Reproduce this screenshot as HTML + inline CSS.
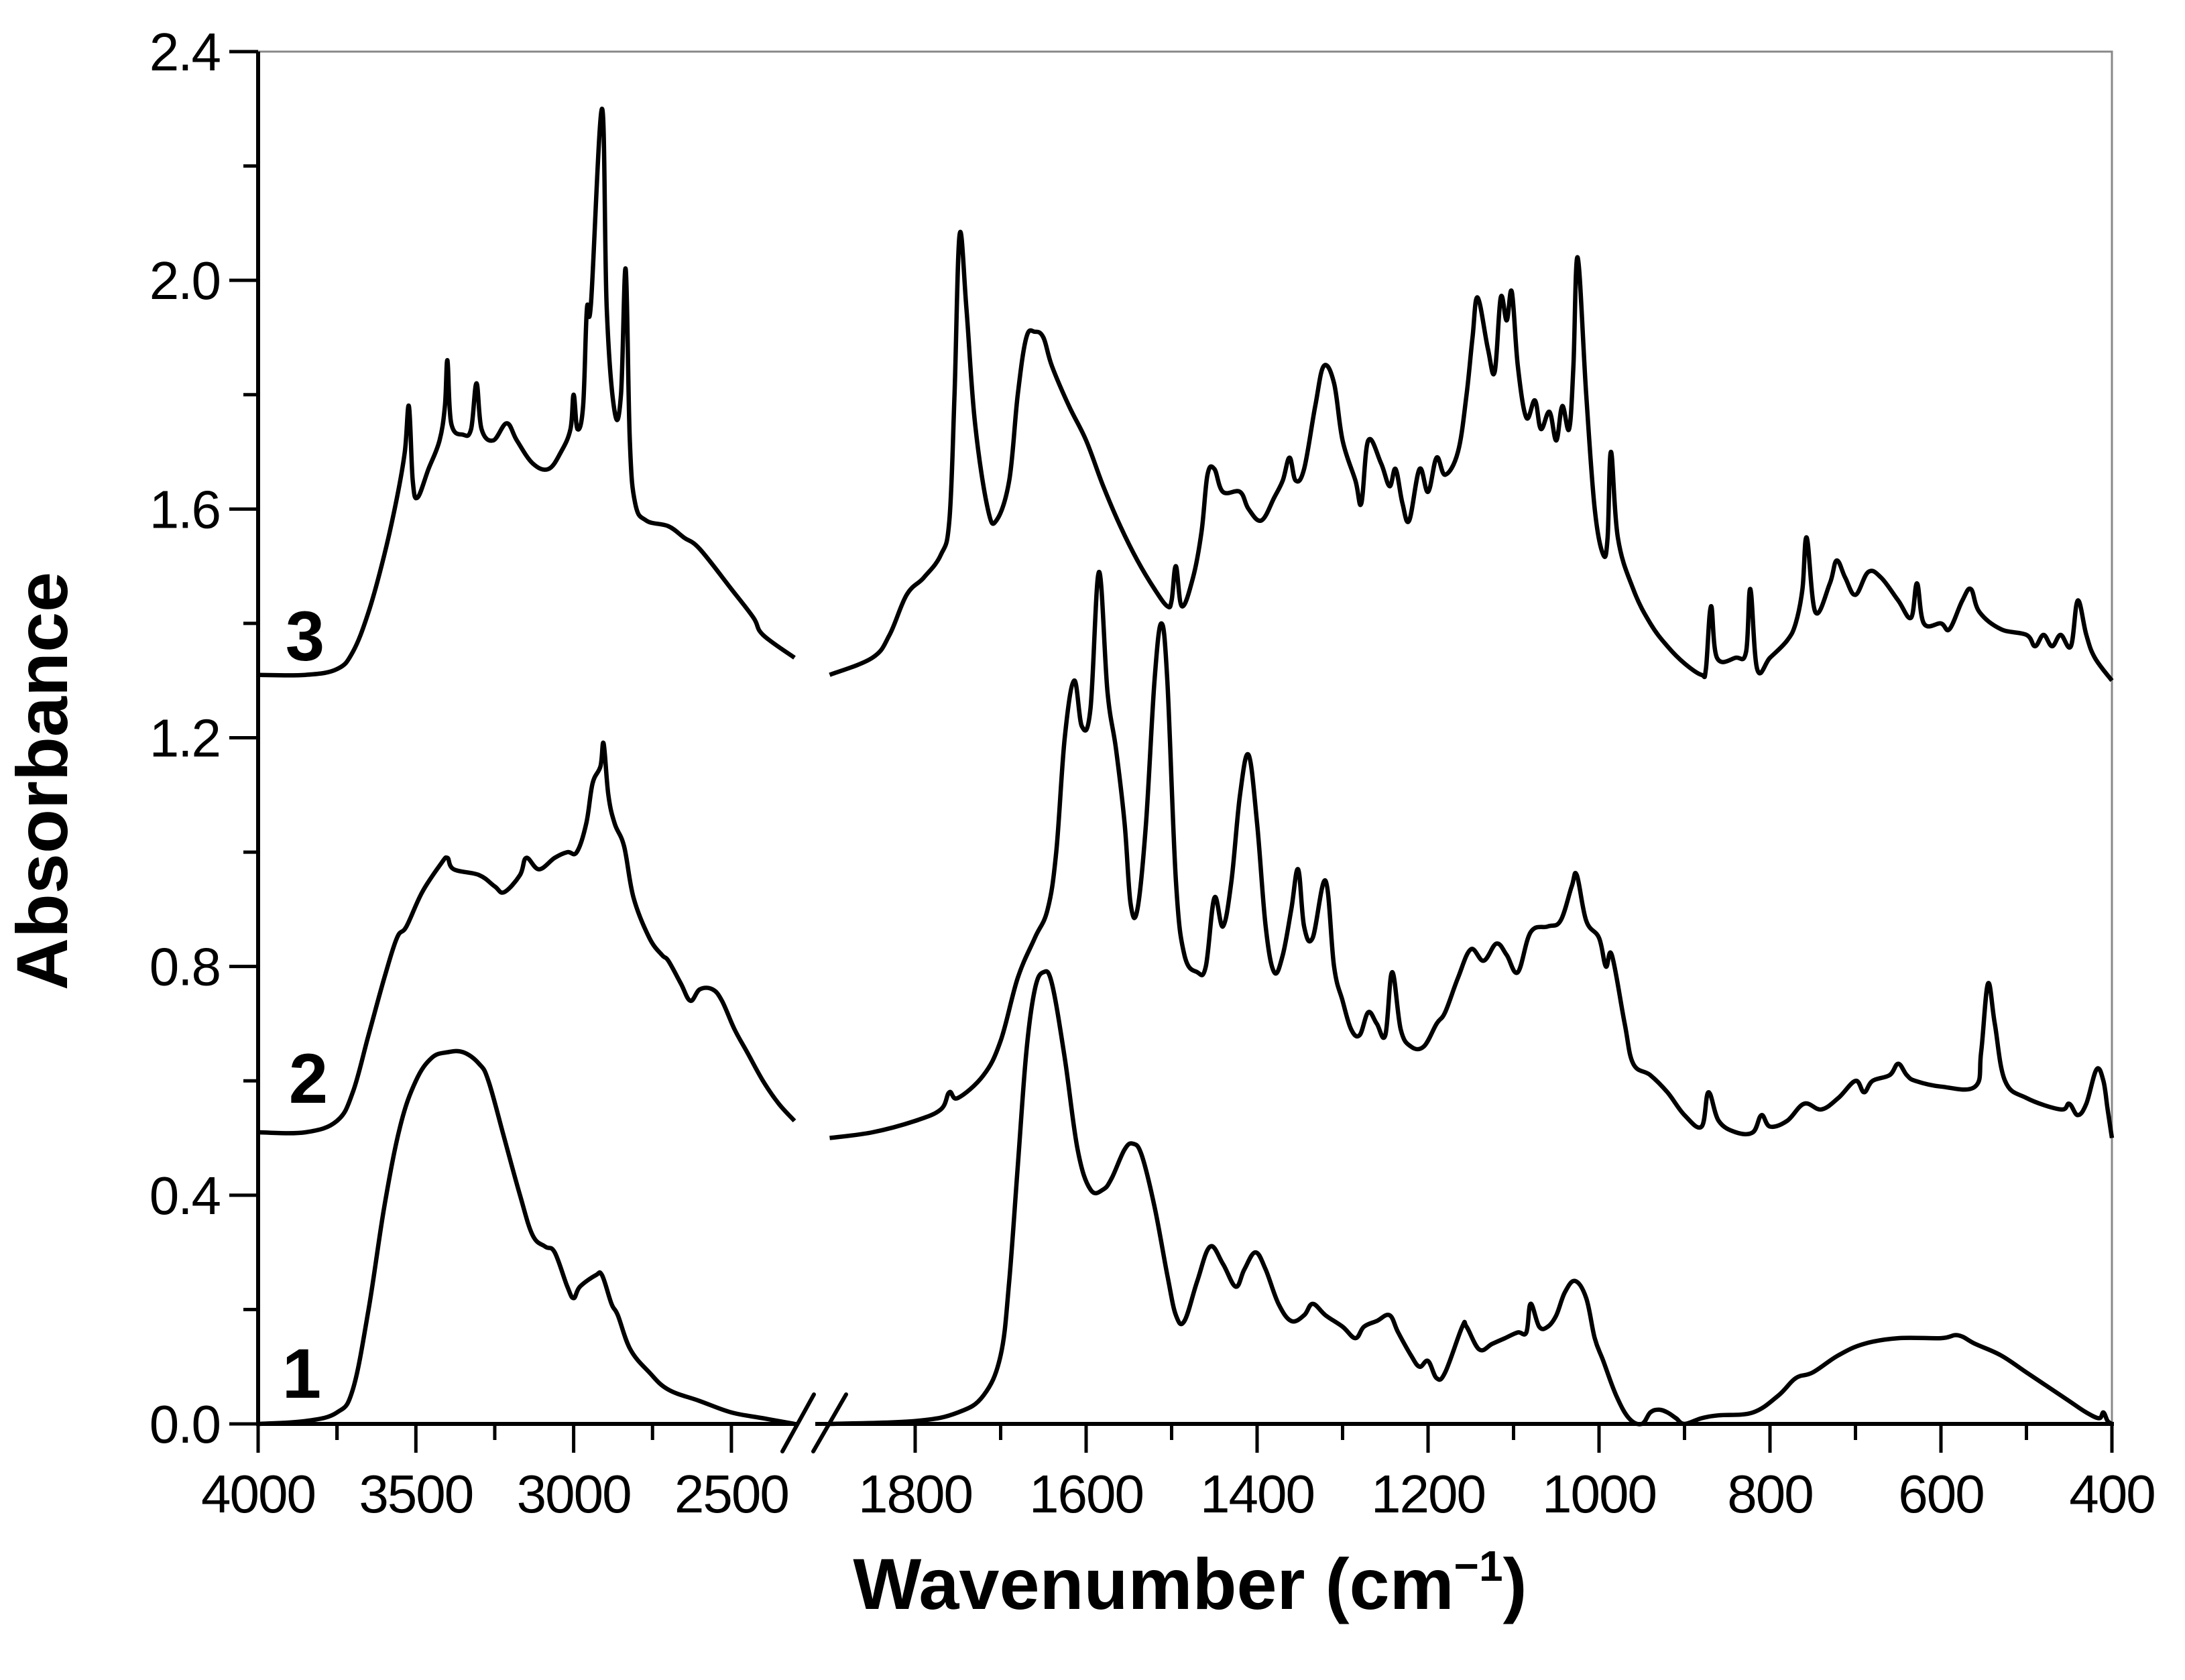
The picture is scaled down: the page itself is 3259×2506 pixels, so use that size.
<!DOCTYPE html>
<html><head><meta charset="utf-8"><style>
html,body{margin:0;padding:0;background:#fff;}
svg{display:block;}
text{font-family:"Liberation Sans",Arial,sans-serif;fill:#000;}
</style></head><body>
<svg id="chart" width="3259" height="2506" viewBox="0 0 3259 2506" xmlns="http://www.w3.org/2000/svg">
<g id="axes"></g>
<g id="series"></g>
<text x="1775" y="2400" font-size="108" font-weight="bold" text-anchor="middle">Wavenumber (cm<tspan dy="-42" font-size="64">−1</tspan><tspan dy="42">)</tspan></text>
<text x="0" y="0" font-size="108" font-weight="bold" text-anchor="middle" transform="translate(100,1165) rotate(-90)">Absorbance</text>
<text x="455" y="985" font-size="105" font-weight="bold" text-anchor="middle">3</text>
<text x="460" y="1645" font-size="105" font-weight="bold" text-anchor="middle">2</text>
<text x="450" y="2085" font-size="105" font-weight="bold" text-anchor="middle">1</text>
</svg>
<script>
const yTicks=[0,0.4,0.8,1.2,1.6,2.0,2.4];
const yTickLabels=["0.0","0.4","0.8","1.2","1.6","2.0","2.4"];
const xTicksLeft=[4000,3500,3000,2500];
const xTicksRight=[1800,1600,1400,1200,1000,800,600,400];
const s3Left=[[4000,1.31],[3850,1.31],[3750,1.32],[3700,1.35],[3650,1.42],[3600,1.52],[3560,1.62],[3535,1.70],[3522,1.78],[3510,1.65],[3495,1.62],[3460,1.67],[3425,1.72],[3408,1.78],[3400,1.86],[3388,1.75],[3350,1.73],[3325,1.74],[3308,1.82],[3292,1.74],[3255,1.72],[3212,1.75],[3180,1.72],[3130,1.68],[3080,1.67],[3040,1.70],[3010,1.74],[3000,1.80],[2988,1.74],[2970,1.78],[2958,1.95],[2945,1.96],[2910,2.30],[2895,1.95],[2870,1.77],[2850,1.80],[2835,2.02],[2822,1.72],[2805,1.61],[2770,1.58],[2700,1.57],[2650,1.55],[2600,1.53],[2500,1.46],[2430,1.41],[2400,1.38],[2300,1.34]];
const s2Left=[[4000,0.51],[3850,0.51],[3750,0.53],[3700,0.58],[3650,0.68],[3600,0.78],[3560,0.85],[3530,0.87],[3480,0.93],[3420,0.98],[3400,0.99],[3380,0.97],[3300,0.96],[3250,0.94],[3220,0.93],[3170,0.96],[3150,0.99],[3110,0.97],[3060,0.99],[3020,1.00],[2990,1.00],[2960,1.05],[2940,1.12],[2915,1.15],[2905,1.19],[2890,1.10],[2870,1.05],[2840,1.01],[2810,0.92],[2760,0.85],[2720,0.82],[2700,0.81],[2660,0.77],[2630,0.74],[2600,0.76],[2560,0.76],[2530,0.74],[2490,0.69],[2450,0.65],[2400,0.60],[2350,0.56],[2300,0.53]];
const s1Left=[[4000,0.0],[3850,0.005],[3750,0.02],[3700,0.06],[3650,0.20],[3600,0.38],[3550,0.52],[3500,0.60],[3450,0.64],[3400,0.65],[3350,0.65],[3300,0.63],[3270,0.60],[3220,0.50],[3170,0.40],[3130,0.33],[3090,0.31],[3060,0.30],[3020,0.24],[3000,0.22],[2980,0.24],[2930,0.26],[2910,0.26],[2880,0.21],[2860,0.19],[2820,0.13],[2760,0.09],[2700,0.06],[2600,0.04],[2500,0.02],[2400,0.01],[2300,0.0]];
const s3Right=[[1900,1.31],[1850,1.34],[1830,1.38],[1810,1.45],[1790,1.48],[1770,1.52],[1760,1.58],[1754,1.80],[1748,2.08],[1740,1.95],[1730,1.75],[1715,1.60],[1705,1.58],[1690,1.65],[1680,1.80],[1670,1.90],[1660,1.91],[1650,1.90],[1640,1.85],[1620,1.78],[1600,1.72],[1580,1.64],[1560,1.57],[1540,1.51],[1520,1.46],[1505,1.43],[1500,1.44],[1495,1.50],[1488,1.43],[1475,1.48],[1465,1.56],[1458,1.66],[1450,1.67],[1440,1.63],[1420,1.63],[1410,1.60],[1395,1.58],[1380,1.62],[1370,1.65],[1362,1.69],[1355,1.65],[1345,1.67],[1332,1.78],[1322,1.85],[1310,1.82],[1300,1.72],[1285,1.65],[1278,1.61],[1270,1.72],[1255,1.68],[1245,1.64],[1238,1.67],[1230,1.61],[1222,1.58],[1210,1.67],[1200,1.63],[1190,1.69],[1180,1.66],[1165,1.70],[1155,1.80],[1148,1.90],[1142,1.97],[1130,1.88],[1122,1.84],[1115,1.97],[1108,1.93],[1102,1.98],[1095,1.85],[1085,1.76],[1075,1.79],[1068,1.74],[1058,1.77],[1050,1.72],[1043,1.78],[1035,1.74],[1030,1.85],[1025,2.04],[1015,1.80],[1005,1.60],[995,1.52],[990,1.55],[986,1.70],[978,1.55],[960,1.46],[940,1.40],[920,1.36],[900,1.33],[880,1.31],[875,1.32],[869,1.43],[862,1.34],[840,1.34],[828,1.35],[823,1.46],[815,1.32],[800,1.34],[780,1.37],[770,1.40],[762,1.46],[757,1.55],[747,1.42],[730,1.47],[722,1.51],[712,1.48],[700,1.45],[685,1.49],[670,1.48],[650,1.44],[635,1.41],[628,1.47],[620,1.40],[600,1.40],[590,1.39],[575,1.44],[565,1.46],[555,1.42],[530,1.39],[500,1.38],[490,1.36],[480,1.38],[470,1.36],[460,1.38],[448,1.36],[440,1.44],[430,1.38],[420,1.34],[400,1.30]];
const s2Right=[[1900,0.50],[1850,0.51],[1800,0.53],[1770,0.55],[1760,0.58],[1750,0.57],[1720,0.61],[1700,0.67],[1680,0.78],[1660,0.85],[1645,0.90],[1635,1.00],[1625,1.20],[1614,1.30],[1605,1.22],[1595,1.25],[1585,1.49],[1575,1.28],[1565,1.18],[1555,1.05],[1548,0.91],[1540,0.90],[1530,1.05],[1520,1.30],[1512,1.40],[1505,1.30],[1495,0.95],[1485,0.82],[1470,0.79],[1460,0.80],[1450,0.92],[1440,0.87],[1430,0.95],[1420,1.10],[1410,1.17],[1400,1.05],[1390,0.87],[1380,0.79],[1370,0.82],[1360,0.90],[1352,0.97],[1345,0.87],[1335,0.85],[1320,0.95],[1310,0.80],[1300,0.74],[1290,0.69],[1280,0.68],[1270,0.72],[1260,0.70],[1250,0.68],[1242,0.79],[1232,0.69],[1220,0.66],[1205,0.66],[1190,0.70],[1180,0.72],[1165,0.78],[1150,0.83],[1135,0.81],[1120,0.84],[1108,0.82],[1095,0.79],[1080,0.86],[1060,0.87],[1045,0.88],[1032,0.94],[1026,0.96],[1015,0.88],[1000,0.85],[992,0.80],[985,0.82],[970,0.70],[960,0.63],[940,0.61],[920,0.58],[900,0.54],[880,0.52],[872,0.58],[860,0.53],[840,0.51],[820,0.51],[810,0.54],[800,0.52],[780,0.53],[760,0.56],[740,0.55],[720,0.57],[700,0.60],[690,0.58],[680,0.60],[660,0.61],[650,0.63],[640,0.61],[630,0.60],[600,0.59],[560,0.59],[553,0.65],[545,0.77],[537,0.70],[525,0.60],[500,0.57],[460,0.55],[450,0.56],[440,0.54],[430,0.56],[418,0.62],[410,0.60],[405,0.55],[400,0.50]];
const s1Right=[[1900,0.0],[1800,0.005],[1750,0.02],[1720,0.05],[1700,0.12],[1690,0.25],[1680,0.45],[1670,0.65],[1660,0.76],[1650,0.79],[1640,0.77],[1625,0.64],[1610,0.48],[1595,0.41],[1580,0.41],[1570,0.43],[1555,0.48],[1545,0.49],[1535,0.47],[1520,0.38],[1505,0.26],[1495,0.19],[1485,0.18],[1470,0.25],[1455,0.31],[1440,0.28],[1425,0.24],[1415,0.27],[1402,0.30],[1390,0.27],[1375,0.21],[1360,0.18],[1345,0.19],[1335,0.21],[1320,0.19],[1300,0.17],[1285,0.15],[1275,0.17],[1260,0.18],[1245,0.19],[1235,0.16],[1220,0.12],[1210,0.10],[1200,0.11],[1190,0.08],[1180,0.09],[1160,0.17],[1155,0.17],[1140,0.13],[1125,0.14],[1110,0.15],[1095,0.16],[1085,0.16],[1080,0.21],[1070,0.17],[1060,0.17],[1050,0.19],[1040,0.23],[1028,0.25],[1015,0.22],[1005,0.15],[995,0.11],[980,0.05],[965,0.01],[950,0.0],[940,0.02],[930,0.025],[920,0.02],[910,0.01],[900,0.0],[880,0.01],[860,0.015],[820,0.02],[790,0.05],[770,0.08],[750,0.09],[720,0.12],[690,0.14],[650,0.15],[600,0.15],[580,0.155],[560,0.14],[530,0.12],[500,0.09],[470,0.06],[450,0.04],[430,0.02],[415,0.01],[410,0.02],[405,0.005],[400,0.0]];

const NS="http://www.w3.org/2000/svg";
const X0=385,X1=3150,Y0=2124,YT=77;
function xScale(w){return w>=2000? X0+(4000-w)*0.4706 : 1365+(1800-w)*1.275;}
function yScale(v){return Y0-v*(Y0-YT)/2.4;}
function mk(tag,attrs,parent){const e=document.createElementNS(NS,tag);for(const k in attrs)e.setAttribute(k,attrs[k]);parent.appendChild(e);return e;}
const axes=document.getElementById('axes');
const frame=mk('path',{d:`M${X0},${YT} H${X1} V${Y0}`,fill:'none',stroke:'#888',"stroke-width":3},axes);


const yax=mk('line',{x1:X0,y1:YT,x2:X0,y2:Y0+3,stroke:'#000',"stroke-width":6},axes);


const xax=mk('line',{x1:X0-3,y1:Y0,x2:X1+3,y2:Y0,stroke:'#000',"stroke-width":6},axes);


yTicks.forEach((v,i)=>{
  const y=yScale(v);
  const t=mk('line',{x1:X0-43,y1:y,x2:X0,y2:y,stroke:'#000',"stroke-width":5},axes);
  
  
  const lb=mk('text',{x:328,y:y+28,"font-size":80,"text-anchor":"end","letter-spacing":"-2"},axes);
  lb.textContent=yTickLabels[i];
  
  
  if(i<yTicks.length-1){
    const ym=yScale(v+0.2);
    const m=mk('line',{x1:X0-22,y1:ym,x2:X0,y2:ym,stroke:'#000',"stroke-width":5},axes);
    
    
  }
});
function xtick(w,major,label){
  const x=xScale(w);
  const t=mk('line',{x1:x,y1:Y0,x2:x,y2:Y0+(major?43:24),stroke:'#000',"stroke-width":5},axes);
  
  
  if(label){
    const lb=mk('text',{x:x,y:Y0+132,"font-size":80,"text-anchor":"middle","letter-spacing":"-2"},axes);
    lb.textContent=String(w);
    
    
  }
}
xTicksLeft.forEach(w=>{xtick(w,true,true);if(w-250>=2300)xtick(w-250,false,false);});
xtick(3750,false,false);
xTicksRight.forEach(w=>{xtick(w,true,true);if(w-100>=400)xtick(w-100,false,false);});
const br=mk('g',{},axes);


mk('rect',{x:1188,y:Y0-5,width:28,height:10,fill:'#fff'},br);
mk('line',{x1:1167,y1:2165,x2:1214,y2:2080,stroke:'#000',"stroke-width":6,"stroke-linecap":"round"},br);
mk('line',{x1:1213,y1:2165,x2:1262,y2:2080,stroke:'#000',"stroke-width":6,"stroke-linecap":"round"},br);

function smoothPath(pts){
  const p=pts.map(d=>[xScale(d[0]),yScale(d[1])]);
  let d=`M${p[0][0].toFixed(1)},${p[0][1].toFixed(1)}`;
  for(let i=0;i<p.length-1;i++){
    const a=p[Math.max(0,i-1)],b=p[i],c=p[i+1],e=p[Math.min(p.length-1,i+2)];
    const t=0.18;
    const c1=[b[0]+(c[0]-a[0])*t,b[1]+(c[1]-a[1])*t];
    const c2=[c[0]-(e[0]-b[0])*t,c[1]-(e[1]-b[1])*t];
    d+=` C${c1[0].toFixed(1)},${c1[1].toFixed(1)} ${c2[0].toFixed(1)},${c2[1].toFixed(1)} ${c[0].toFixed(1)},${c[1].toFixed(1)}`;
  }
  return d;
}
const sg=document.getElementById('series');
const all=[['spectrum-1-left',s1Left],['spectrum-1-right',s1Right],['spectrum-2-left',s2Left],['spectrum-2-right',s2Right],['spectrum-3-left',s3Left],['spectrum-3-right',s3Right]];
all.forEach(([n,data])=>{
  const pa=mk('path',{d:smoothPath(data),fill:'none',stroke:'#000',"stroke-width":6.5,"stroke-linejoin":"round"},sg);
  
  
});
</script>
</body></html>
